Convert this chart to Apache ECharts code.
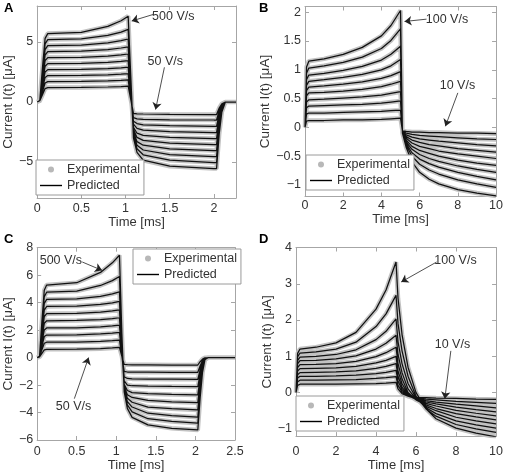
<!DOCTYPE html>
<html><head><meta charset="utf-8">
<script src="https://cdn.jsdelivr.net/npm/echarts@6/dist/echarts.min.js"></script>
<style>html,body{margin:0;padding:0;background:#fff}#c{width:506px;height:473px}</style>
</head><body><div id="c"></div><script>
// ---------- Panel A (50..500 V/s) ----------
const aTime = [0,0.03,0.06,0.09,0.12,0.5,0.8,0.95,1.03,1.06,1.09,1.13,1.2,1.5,2.0,2.03,2.06,2.09,2.13,2.25];
const aCurves = [
 [0,0.1,0.6,1.12,1.2,1.21,1.25,1.29,1.32,0.18,-0.95,-0.99,-1.0,-1.03,-1.05,-1.05,-0.5,-0.15,0,0],
 [0,0.12,0.85,1.58,1.7,1.71,1.76,1.81,1.85,0.27,-1.3,-1.4,-1.44,-1.48,-1.5,-1.5,-0.72,-0.22,0,0],
 [0,0.12,1.1,2.05,2.2,2.21,2.27,2.33,2.37,0.38,-1.6,-1.8,-1.9,-1.97,-2.03,-2.03,-0.98,-0.3,0,0],
 [0,0.12,1.35,2.5,2.7,2.71,2.78,2.85,2.9,0.52,-1.85,-2.2,-2.35,-2.47,-2.55,-2.55,-1.22,-0.38,0,0],
 [0,0.12,1.6,2.98,3.2,3.22,3.3,3.39,3.45,0.68,-2.1,-2.6,-2.78,-2.95,-3.05,-3.05,-1.46,-0.45,0,0],
 [0,0.12,1.85,3.44,3.7,3.72,3.82,3.92,4.0,0.85,-2.3,-2.95,-3.2,-3.42,-3.55,-3.55,-1.7,-0.53,0,0],
 [0,0.12,2.1,3.9,4.2,4.23,4.36,4.5,4.6,1.05,-2.5,-3.3,-3.6,-3.9,-4.05,-4.05,-1.95,-0.6,0,0],
 [0,0.12,2.35,4.37,4.7,4.74,4.93,5.11,5.25,1.27,-2.7,-3.6,-4.0,-4.38,-4.55,-4.55,-2.18,-0.68,0,0],
 [0,0.12,2.6,4.84,5.2,5.26,5.55,5.83,6.05,1.57,-2.9,-3.9,-4.4,-4.85,-5.05,-5.05,-2.42,-0.75,0,0],
 [0,0.12,2.85,5.3,5.7,5.8,6.3,6.77,7.15,2.07,-3.0,-4.2,-4.85,-5.35,-5.55,-5.55,-2.66,-0.83,0,0]
];
const aXTicks = [0,0.5,1,1.5,2];
const aYTicks = [-5,0,5];

// ---------- Panel B (10..100 V/s) ----------
const bTime = [0,0.08,0.2,1,2,3,4,4.5,5.0,5.1,5.3,5.6,6.0,6.5,7.0,8.0,9.0,10.0];
const bCurves = [
 [0,0.11,0.12,0.12,0.13,0.13,0.14,0.15,0.16,-0.06,-0.07,-0.08,-0.08,-0.09,-0.09,-0.1,-0.1,-0.11],
 [0,0.23,0.25,0.25,0.26,0.27,0.28,0.29,0.3,-0.07,-0.1,-0.12,-0.14,-0.15,-0.16,-0.18,-0.2,-0.21],
 [0,0.34,0.37,0.38,0.39,0.4,0.42,0.44,0.46,-0.08,-0.13,-0.17,-0.2,-0.22,-0.24,-0.27,-0.3,-0.32],
 [0,0.44,0.48,0.49,0.51,0.53,0.56,0.59,0.62,-0.09,-0.16,-0.22,-0.26,-0.3,-0.32,-0.37,-0.4,-0.43],
 [0,0.55,0.6,0.61,0.63,0.66,0.71,0.75,0.8,-0.09,-0.19,-0.27,-0.33,-0.37,-0.41,-0.46,-0.5,-0.54],
 [0,0.64,0.7,0.72,0.75,0.79,0.85,0.9,0.97,-0.1,-0.22,-0.33,-0.4,-0.45,-0.5,-0.57,-0.62,-0.66],
 [0,0.73,0.8,0.83,0.87,0.92,1.0,1.07,1.18,-0.1,-0.25,-0.38,-0.47,-0.54,-0.59,-0.67,-0.73,-0.78],
 [0,0.83,0.91,0.94,0.99,1.06,1.17,1.27,1.41,-0.1,-0.28,-0.44,-0.55,-0.63,-0.69,-0.78,-0.85,-0.91],
 [0,0.94,1.03,1.07,1.13,1.22,1.37,1.51,1.71,-0.1,-0.31,-0.5,-0.64,-0.74,-0.81,-0.91,-0.98,-1.04],
 [0,1.05,1.15,1.19,1.27,1.39,1.59,1.77,2.03,-0.1,-0.35,-0.6,-0.78,-0.9,-0.98,-1.08,-1.14,-1.19]
];
const bXTicks = [0,2,4,6,8,10];
const bYTicks = [-1,-0.5,0,0.5,1,1.5,2];

// ---------- Panel C (50..500 V/s) ----------
const cTime = [0,0.03,0.06,0.09,0.12,0.5,0.8,0.95,1.04,1.07,1.1,1.14,1.2,1.4,1.7,2.03,2.06,2.09,2.12,2.16,2.5];
const cCurves = [
 [0,0.05,0.3,0.56,0.6,0.61,0.65,0.7,0.74,0.1,-0.5,-0.52,-0.53,-0.53,-0.54,-0.54,-0.3,-0.11,-0.02,0,0],
 [0,0.1,0.56,1.04,1.12,1.13,1.18,1.23,1.28,0.1,-1.0,-1.05,-1.06,-1.06,-1.07,-1.07,-0.59,-0.21,-0.03,0,0],
 [0,0.1,0.82,1.53,1.64,1.65,1.72,1.78,1.84,0.2,-1.4,-1.52,-1.55,-1.56,-1.57,-1.58,-0.87,-0.32,-0.05,0,0],
 [0,0.1,1.08,2.01,2.16,2.17,2.24,2.3,2.36,0.3,-1.7,-2.0,-2.05,-2.08,-2.1,-2.12,-1.17,-0.42,-0.06,0,0],
 [0,0.1,1.34,2.49,2.68,2.7,2.77,2.84,2.9,0.45,-1.95,-2.4,-2.55,-2.63,-2.68,-2.72,-1.5,-0.54,-0.08,0,0],
 [0,0.1,1.6,2.98,3.2,3.22,3.31,3.4,3.47,0.6,-2.1,-2.7,-2.9,-3.12,-3.22,-3.28,-1.8,-0.66,-0.1,0,0],
 [0,0.1,1.86,3.46,3.72,3.75,3.87,3.99,4.09,0.8,-2.2,-2.95,-3.25,-3.6,-3.72,-3.81,-2.1,-0.76,-0.11,0,0],
 [0,0.1,2.12,3.94,4.24,4.28,4.46,4.64,4.78,1.0,-2.3,-3.2,-3.6,-4.05,-4.22,-4.34,-2.39,-0.87,-0.13,0,0],
 [0,0.1,2.38,4.43,4.76,4.84,5.25,5.6,5.9,1.3,-2.4,-3.45,-3.95,-4.45,-4.65,-4.78,-2.63,-0.96,-0.14,0,0],
 [0,0.1,2.64,4.91,5.28,5.45,6.2,6.9,7.45,1.8,-2.5,-3.7,-4.35,-4.9,-5.15,-5.27,-2.9,-1.05,-0.16,0,0]
];
const cXTicks = [0,0.5,1,1.5,2,2.5];
const cYTicks = [-6,-4,-2,0,2,4,6,8];

// ---------- Panel D (10..100 V/s) ----------
const dTime = [0,0.08,0.2,1,2,3,4,4.5,5.0,5.1,5.3,5.6,6.0,6.5,7.0,8.0,9.0,10.0];
const dCurves = [
 [0,0.2,0.23,0.23,0.23,0.24,0.25,0.26,0.28,0.1,-0.03,-0.1,-0.13,-0.14,-0.15,-0.16,-0.18,-0.19],
 [0,0.3,0.34,0.34,0.35,0.36,0.39,0.41,0.44,0.2,0.02,-0.1,-0.15,-0.18,-0.2,-0.24,-0.27,-0.3],
 [0,0.4,0.45,0.45,0.46,0.48,0.52,0.56,0.61,0.32,0.08,-0.1,-0.17,-0.22,-0.26,-0.32,-0.37,-0.42],
 [0,0.49,0.55,0.56,0.57,0.6,0.67,0.72,0.8,0.45,0.15,-0.08,-0.19,-0.26,-0.31,-0.4,-0.47,-0.53],
 [0,0.59,0.66,0.67,0.68,0.72,0.82,0.89,1.0,0.6,0.25,-0.05,-0.2,-0.3,-0.37,-0.49,-0.57,-0.64],
 [0,0.69,0.77,0.78,0.8,0.86,0.99,1.1,1.25,0.8,0.38,0.0,-0.2,-0.34,-0.44,-0.58,-0.67,-0.75],
 [0,0.79,0.88,0.89,0.93,1.01,1.2,1.36,1.58,1.05,0.55,0.1,-0.18,-0.38,-0.5,-0.68,-0.78,-0.86],
 [0,0.88,0.98,1.0,1.05,1.18,1.46,1.69,2.03,1.4,0.8,0.25,-0.15,-0.42,-0.58,-0.78,-0.89,-0.98],
 [0,0.98,1.09,1.12,1.2,1.39,1.82,2.17,2.68,1.9,1.15,0.45,-0.1,-0.45,-0.65,-0.88,-1.0,-1.1],
 [0,1.08,1.2,1.25,1.37,1.66,2.3,2.83,3.6,2.6,1.6,0.7,0.0,-0.45,-0.72,-0.98,-1.12,-1.22]
];
const dXTicks = [0,2,4,6,8,10];
const dYTicks = [-1,0,1,2,3,4];

// ---------- Annotations (data coordinates) ----------
const aNotes = [{text:'500 V/s', at:[1.54,7.08], from:[1.32,7.31], to:[1.07,6.75]},
                {text:'50 V/s',  at:[1.45,3.33], from:[1.44,2.89], to:[1.34,-0.63]}];
const bNotes = [{text:'100 V/s', at:[7.43,1.87], from:[6.36,1.88], to:[5.21,1.84]},
                {text:'10 V/s',  at:[7.98,0.72], from:[8.0,0.6],  to:[7.35,0.02]}];
const cNotes = [{text:'500 V/s', at:[0.3,7.03], from:[0.57,6.96], to:[0.82,6.35]},
                {text:'50 V/s',  at:[0.46,-3.57], from:[0.47,-2.99], to:[0.65,0.0]}];
const dNotes = [{text:'100 V/s', at:[7.97,3.63], from:[7.03,3.6], to:[5.26,3.05]},
                {text:'10 V/s',  at:[7.82,1.33], from:[7.74,1.15], to:[7.44,-0.17]}];

// ---------- build ----------
const FONT = "'Liberation Sans', Arial, sans-serif";
const FRAME = '#a6a6a6';
const TXT = '#333';
const fmt = v => (v < 0 ? '\u2212' + Math.abs(v) : String(v));

function toData(time, curves) {
  const out = [];
  curves.forEach((row, ri) => {
    row.forEach((v, i) => out.push([time[i], v]));
    if (ri < curves.length - 1) out.push(['-', '-']);
  });
  return out;
}

const panels = [
  {time:aTime, curves:aCurves, xr:[0,2.25], yr:[-8,8], xt:aXTicks, yt:aYTicks, notes:aNotes,
   grid:{left:33, top:6, width:203, height:192}, xm:4, xng:17, yng:22, letter:'A', lx:4, ly:2,
   legend:{left:36, top:160}},
  {time:bTime, curves:bCurves, xr:[0,10], yr:[-1.2,2.1], xt:bXTicks, yt:bYTicks, notes:bNotes,
   grid:{left:305, top:6.5, width:193, height:190}, xm:3, xng:16, yng:31, letter:'B', lx:259, ly:2,
   legend:{left:306, top:155}},
  {time:cTime, curves:cCurves, xr:[0,2.5], yr:[-6,8], xt:cXTicks, yt:cYTicks, notes:cNotes,
   grid:{left:33, top:247.7, width:202, height:192.3}, xm:5, xng:19, yng:21, letter:'C', lx:4, ly:233,
   legend:{left:133, top:249}},
  {time:dTime, curves:dCurves, xr:[0,10], yr:[-1.2,4], xt:dXTicks, yt:dYTicks, notes:dNotes,
   grid:{left:296, top:247.5, width:202, height:188.8}, xm:9, xng:21, yng:22, letter:'D', lx:259, ly:233,
   legend:{left:296, top:396}}
];

const grid = [], xAxis = [], yAxis = [], series = [], legend = [], graphic = [];
panels.forEach((p, i) => {
  grid.push(p.grid);
  const lineCfg = {show:true, onZero:false, lineStyle:{color:FRAME, width:1}};
  const tickX = {show:true, inside:true, length:4, customValues:p.xt, lineStyle:{color:FRAME}};
  const tickY = {show:true, inside:true, length:4, customValues:p.yt, lineStyle:{color:FRAME}};
  xAxis.push({gridIndex:i, type:'value', min:p.xr[0], max:p.xr[1], position:'bottom',
    axisLine:lineCfg, axisTick:tickX, splitLine:{show:false},
    axisLabel:{customValues:p.xt, formatter:fmt, margin:p.xm, color:TXT, fontSize:12.5, fontFamily:FONT},
    name:'Time [ms]', nameLocation:'middle', nameGap:p.xng,
    nameTextStyle:{color:TXT, fontSize:13, fontFamily:FONT}});
  xAxis.push({gridIndex:i, type:'value', min:p.xr[0], max:p.xr[1], position:'top',
    axisLine:lineCfg, axisTick:tickX, splitLine:{show:false}, axisLabel:{show:false}});
  yAxis.push({gridIndex:i, type:'value', min:p.yr[0], max:p.yr[1], position:'left',
    axisLine:lineCfg, axisTick:tickY, splitLine:{show:false},
    axisLabel:{customValues:p.yt, formatter:fmt, margin:4, color:TXT, fontSize:12.5, fontFamily:FONT},
    name:'Current I(t) [\u03bcA]', nameLocation:'middle', nameGap:p.yng,
    nameTextStyle:{color:TXT, fontSize:13.5, fontFamily:FONT}});
  yAxis.push({gridIndex:i, type:'value', min:p.yr[0], max:p.yr[1], position:'right',
    axisLine:lineCfg, axisTick:tickY, splitLine:{show:false}, axisLabel:{show:false}});

  const data = toData(p.time, p.curves);
  series.push({type:'line', name:'Experimental', xAxisIndex:2*i, yAxisIndex:2*i, data:data,
    symbol:'none', connectNulls:false, silent:true,
    itemStyle:{color:'#b8b8b8'}, lineStyle:{color:'#c2c2c2', width:4.5}, z:2});
  series.push({type:'line', name:'Predicted', xAxisIndex:2*i, yAxisIndex:2*i, data:data,
    symbol:'none', connectNulls:false, silent:true,
    itemStyle:{color:'#000'}, lineStyle:{color:'#111', width:1.25}, z:3});
  // annotation arrows + texts on a separate empty series
  series.push({type:'line', name:'notes' + i, xAxisIndex:2*i, yAxisIndex:2*i, data:[],
    silent:true, z:5,
    markLine:{silent:true, symbol:['none','arrow'], symbolSize:7, animation:false,
      itemStyle:{color:'#222'},
      lineStyle:{color:'#222', width:0.8, type:'solid'}, label:{show:false},
      data:p.notes.map(n => [{coord:n.from}, {coord:n.to}])},
    markPoint:{silent:true, symbol:'circle', symbolSize:1, animation:false,
      itemStyle:{color:'rgba(0,0,0,0)'},
      label:{show:true, position:'inside', color:TXT, fontSize:12.5, fontFamily:FONT, formatter:q => q.name},
      data:p.notes.map(n => ({name:n.text, coord:n.at}))}});

  legend.push({left:p.legend.left, top:p.legend.top, orient:'vertical', selectedMode:false,
    data:[{name:'Experimental', icon:'circle'},
          {name:'Predicted', icon:'path://M0,0H22V1.4H0Z'}],
    itemWidth:22, itemHeight:6, itemGap:3, padding:[3,4,3,4],
    borderColor:'#9a9a9a', borderWidth:1, backgroundColor:'#fff', borderRadius:0,
    textStyle:{color:TXT, fontSize:12.5, fontFamily:FONT}});

  graphic.push({type:'text', left:p.lx, top:p.ly, z:10,
    style:{text:p.letter, font:"bold 13px 'Liberation Sans', Arial, sans-serif", fill:'#000'}});
});

const chart = echarts.init(document.getElementById('c'), null, {renderer:'canvas'});
chart.setOption({animation:false, backgroundColor:'#fff', grid, xAxis, yAxis, series, legend, graphic});
</script></body></html>
